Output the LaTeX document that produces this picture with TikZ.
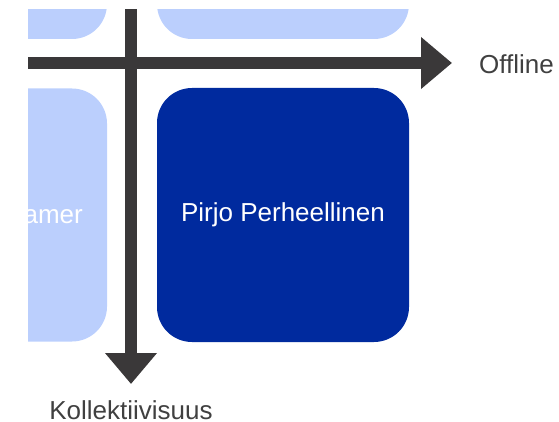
\documentclass[tikz,border=0pt]{standalone}
\usepackage{fontspec}
\setmainfont{Liberation Sans}
\usetikzlibrary{arrows.meta}
\definecolor{darkbox}{RGB}{0,42,158}
\definecolor{lightbox}{RGB}{187,207,253}
\definecolor{axiscol}{RGB}{58,56,57}
\definecolor{labelcol}{RGB}{64,64,64}
\tikzset{
  quad/.style={rounded corners=35pt, minimum width=252pt, inner sep=0pt, draw=none},
  lightquad/.style={quad, fill=lightbox, minimum height=253pt},
  darkquad/.style={quad, fill=darkbox, minimum height=254pt, text=white, font=\fontsize{26}{30}\selectfont},
  axis/.style={draw=axiscol, line width=12pt, -{Triangle[length=31pt, width=50pt]}},
  axislabel/.style={text=labelcol, inner sep=0pt, font=\fontsize{26}{30}\selectfont},
  boxtext/.style={text=white, inner sep=0pt, font=\fontsize{26}{30}\selectfont}
}
\begin{document}
\begin{tikzpicture}[x=1pt, y=-1pt]
\useasboundingbox (0,0) rectangle (559,422);
\begin{scope}
  \clip (28,10) rectangle (559,422);
  \node[lightquad] (tl) at (-19,-87.5) {};
  \node[lightquad] (tr) at (283,-87.5) {};
  \node[lightquad] (ml) at (-19,215) {};
  \node[darkquad] (pirjo) at (283,215) {Pirjo Perheellinen};
  \node[boxtext, anchor=base east] (amer) at (83,223) {amer};
  \coordinate (vstart) at (131,0);
  \coordinate (vend) at (131,384);
  \coordinate (hstart) at (0,63);
  \coordinate (hend) at (452,63);
  \draw[axis] (hstart) -- (hend);
  \draw[axis] (vstart) -- (vend);
\end{scope}
\node[axislabel, anchor=west] (offline) at (479,64) {Offline};
\node[axislabel, anchor=base] (koll) at (131,419) {Kollektiivisuus};
\end{tikzpicture}
\end{document}
